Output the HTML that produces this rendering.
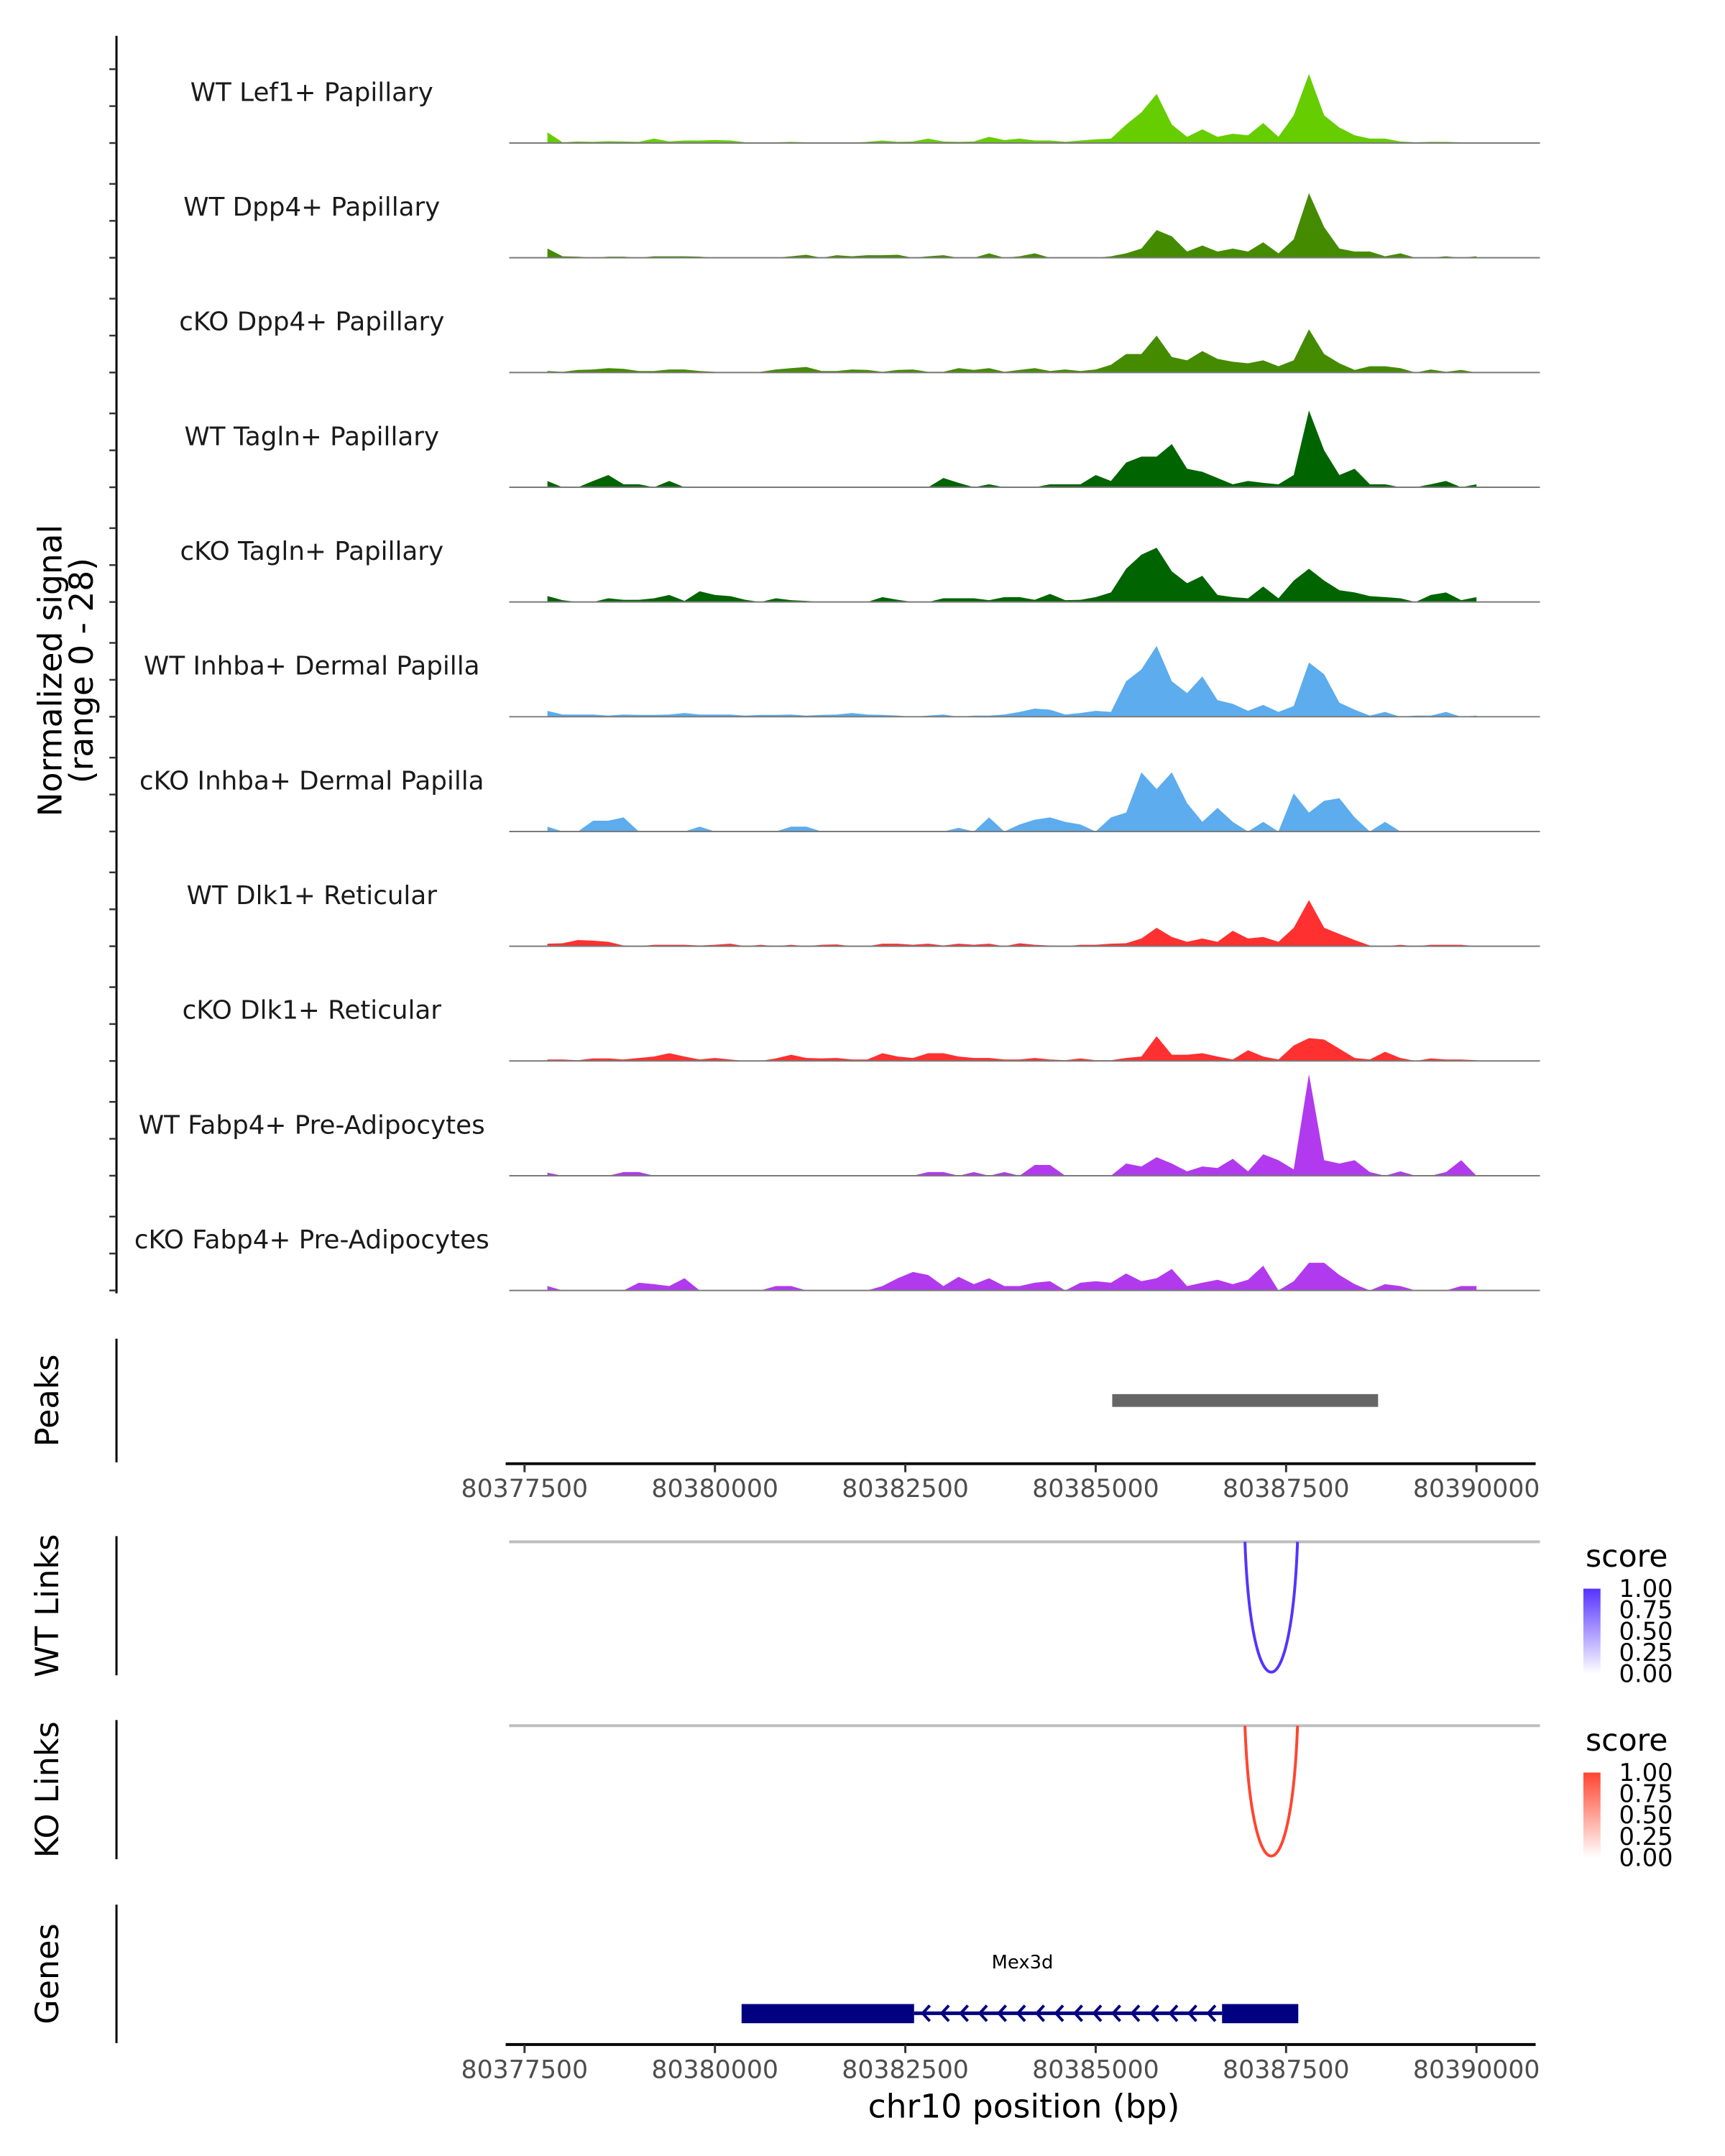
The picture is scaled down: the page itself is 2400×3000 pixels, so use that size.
<!DOCTYPE html>
<html><head><meta charset="utf-8"><style>
html,body{margin:0;padding:0;background:#fff}
svg{display:block;font-family:"DejaVu Sans","Liberation Sans",sans-serif}
</style></head><body>
<svg id="chart" width="2400" height="3000" viewBox="0 0 2400 3000" xmlns="http://www.w3.org/2000/svg">
<rect width="2400" height="3000" fill="#fff"/>
<g transform="matrix(0.9917,0,0,0.988,2.4,2.4)">
<g id="tracks"></g>
<g id="lower"></g>
</g>
</svg>
<script>
const trackNames = ["WT Lef1+ Papillary","WT Dpp4+ Papillary","cKO Dpp4+ Papillary","WT Tagln+ Papillary","cKO Tagln+ Papillary","WT Inhba+ Dermal Papilla","cKO Inhba+ Dermal Papilla","WT Dlk1+ Reticular","cKO Dlk1+ Reticular","WT Fabp4+ Pre-Adipocytes","cKO Fabp4+ Pre-Adipocytes"];
const trackColors = ["#66CD00","#458B00","#458B00","#006400","#006400","#5CACEE","#5CACEE","#FF3030","#FF3030","#B23AEE","#B23AEE"];
const binStart = 80377800;
const binSize = 200;
const sigLef1WT = [2.9,0.2,0.4,0.3,0.5,0.4,0.3,1.2,0.4,0.7,0.7,0.8,0.7,0.2,0.1,0.2,0.3,0.2,0.1,0.1,0.1,0.3,0.7,0.3,0.4,1.2,0.4,0.3,0.4,1.7,0.8,1.2,0.7,0.7,0.3,0.7,1,1.2,5,8.3,13.3,5,1.7,3.7,1.7,2.5,2.1,5.4,1.7,7.5,18.7,7.5,4.2,2.1,1.2,1.2,0.4,0.2,0.3,0.3,0.2,0];
const sigDpp4WT = [2.5,0.4,0.3,0,0.3,0.3,0,0.4,0.4,0.4,0.3,0,0,0,0,0,0.4,0.8,0,0.7,0.4,0.7,0.7,0.8,0,0.4,0.7,0,0,1.2,0,0.4,1.2,0,0,0,0,0.4,1.2,2.5,7.5,5.8,1.7,3.3,1.7,2.5,1.7,4.2,1.2,5,17.5,8.3,2.5,1.7,1.7,0.4,1.2,0,0,0.4,0,0.4];
const sigDpp4KO = [0.4,0.2,0.7,0.8,1.2,1,0.4,0.4,0.8,0.8,0.4,0.2,0,0,0.2,0.8,1.2,1.5,0.4,0.4,0.8,0.7,0.2,0.7,0.8,0.2,0.2,1.2,0.7,1.2,0.2,0.7,1.2,0.4,0.8,0.4,0.8,2.1,5,5,10,4.2,3.3,5.8,3.7,2.9,2.5,3.3,1.7,3.3,11.7,5,2.5,0.7,1.7,1.7,1.2,0,0.8,0.2,0.7,0];
const sigTaglnWT = [1.7,0,0,1.7,3.3,0.8,0.8,0,1.7,0,0,0,0,0,0,0,0,0,0,0,0,0,0,0,0,0,2.5,1.2,0,0.8,0,0,0,0.8,0.8,0.8,3.3,1.7,6.7,8.3,8.3,11.7,5,4.2,2.5,0.8,1.7,1.2,0.8,3.3,20.8,10,3.3,5,0.8,0.8,0,0,0.8,1.7,0,0.8];
const sigTaglnKO = [1.6,0.5,0,0,1,0.6,0.6,1,1.9,0.3,2.9,1.9,1.6,0.6,0,1,0.5,0.3,0,0,0,0,1.3,0.6,0,0,1,1,1,0.5,1.3,1.3,0.6,2.2,0.5,0.6,1.3,2.6,9,12.8,14.7,8.3,5.1,7.1,1.9,1.3,1,4.2,1,5.8,9,5.8,3.2,2.6,1.6,1.3,1,0,1.9,2.6,0.5,1.3];
const sigInhbaWT = [1.6,0.6,0.6,0.6,0.3,0.6,0.5,0.5,0.6,1,0.6,0.6,0.6,0.3,0.5,0.5,0.6,0.3,0.5,0.6,1,0.6,0.5,0.3,0,0.3,0.6,0,0.3,0.3,0.6,1.3,2.2,1.9,0.6,1,1.6,1.3,9.6,12.8,19.2,9.6,6.4,10.9,4.5,3.5,1.6,3.2,1.3,2.9,14.7,11.5,3.8,1.9,0.3,1.3,0,0.3,0.3,1.3,0,0.3];
const sigInhbaKO = [1.3,0,0,2.9,2.9,3.8,0,0,0,0,1.3,0,0,0,0,0,1.3,1.3,0,0,0,0,0,0,0,0,0,1,0,3.8,0,1.9,3.2,3.8,2.6,1.9,0,3.8,5.1,16,11.5,16,7.7,2.6,6.4,2.6,0,2.6,0,10.3,5.1,8.3,9,3.8,0,2.6,0,0,0,0,0,0];
const sigDlk1WT = [0.7,0.8,1.7,1.5,1.2,0.2,0,0.4,0.4,0.4,0.2,0.4,0.7,0,0.4,0,0.4,0,0.4,0.5,0,0,0.7,0.7,0.4,0.7,0.2,0.7,0.4,0.7,0,0.8,0.4,0.2,0,0.4,0.4,0.7,0.8,2.1,5,2.5,1.2,2.1,1.2,4.2,2.1,2.5,1.2,5,12.5,5,3.3,1.7,0.2,0,0.4,0,0.4,0.4,0.4,0];
const sigDlk1KO = [0.4,0.4,0.2,0.7,0.7,0.4,0.8,1.2,2.1,1.2,0.4,0.8,0.4,0,0,0.7,1.7,0.8,0.7,0.8,0.4,0.4,2.1,1.2,0.8,2.1,2.1,1.2,0.8,0.8,0.4,0.4,0.8,0.4,0.2,0.7,0.2,0.2,0.8,1.2,6.7,1.7,1.7,2.1,1.2,0.4,2.9,1.2,0.4,4.2,6.2,5.8,3.3,0.8,0.4,2.5,0.8,0,0.7,0.4,0.4,0.2];
const sigFabp4WT = [0.8,0,0,0,0,1,1,0,0,0,0,0,0,0,0,0,0,0,0,0,0,0,0,0,0,1,1,0,1,0,1,0,2.9,2.9,0,0,0,0,3.3,2.5,5,3.3,1.2,2.5,2.1,4.6,1.2,5.8,4.2,1.7,27.5,4.2,3.3,4.2,1,0,1.2,0,0,1,4.2,0];
const sigFabp4KO = [1.2,0,0,0,0,0,2.1,1.7,1.2,3.3,0,0,0,0,0,1.2,1.2,0,0,0,0,0,1.2,3.3,5,4.2,1.2,3.7,1.7,3.3,1.2,1.2,2.1,2.5,0,2.1,2.5,2.1,4.6,2.5,3.3,5.8,1.2,2.1,2.9,1.7,2.9,6.7,0,2.5,7.5,7.5,4.2,1.7,0,1.7,1.2,0,0,0,1.2,1.2];
const yMax = 28;
const yTicks = [0,10,20];
const xTicks = [80377500,80380000,80382500,80385000,80387500,80390000];
const peakRegions = [[80385217,80388708]];
const wtLinks = [[80386960,80387650,1.0]];
const koLinks = [[80386960,80387650,1.0]];
const geneExons = [[80380350,80382615],[80386659,80387660]];
const geneIntron = [80382615,80386659];
const legendTicks = ["1.00","0.75","0.50","0.25","0.00"];

const signals=[sigLef1WT,sigDpp4WT,sigDpp4KO,sigTaglnWT,sigTaglnKO,sigInhbaWT,sigInhbaKO,sigDlk1WT,sigDlk1KO,sigFabp4WT,sigFabp4KO];
const NS="http://www.w3.org/2000/svg";
function mk(tag,attrs,parent){const e=document.createElementNS(NS,tag);for(const k in attrs)e.setAttribute(k,attrs[k]);parent.appendChild(e);return e;}
const X0=712,X1=2158;
function xs(bp){return 733.5+(bp-80377500)*0.106840;}
const trackH=145.6;
function ys(v,base){return base-v/yMax*trackH;}
const tracks=document.getElementById('tracks');
const lower=document.getElementById('lower');

let ax=mk('line',{x1:161,y1:48,x2:161,y2:1819,stroke:'#000','stroke-width':3},tracks);


signals.forEach((sig,k)=>{
  const base=199+161.6*k;
  const g=mk('g',{},tracks);
  
  
  yTicks.forEach(t=>{
    const tk=mk('line',{x1:151,x2:161,y1:ys(t,base),y2:ys(t,base),stroke:'#333','stroke-width':2.5},g);
    
    
  });
  let d='M'+xs(binStart).toFixed(1)+','+base;
  sig.forEach((v,i)=>{d+=' L'+xs(binStart+binSize*i).toFixed(1)+','+ys(v,base).toFixed(1);});
  d+=' L'+xs(binStart+binSize*(sig.length-1)).toFixed(1)+','+base+' Z';
  const p=mk('path',{d:d,fill:trackColors[k]},g);
  
  
  const bl=mk('line',{x1:X0,x2:X1,y1:base,y2:base,stroke:'#7a7a7a','stroke-width':2},g);
  
  
  const lb=mk('text',{x:435,y:base-71,'text-anchor':'middle','dominant-baseline':'central','font-size':36,fill:'#1a1a1a'},g);
  lb.textContent=trackNames[k];
  
  
});
const yt=mk('text',{transform:'translate(68,942) rotate(-90)','text-anchor':'middle','dominant-baseline':'central','font-size':46,fill:'#000'},tracks);
yt.textContent='Normalized signal';


const yt2=mk('text',{transform:'translate(112,942) rotate(-90)','text-anchor':'middle','dominant-baseline':'central','font-size':46,fill:'#000'},tracks);
yt2.textContent='(range 0 - 28)';



function panelLabel(txt,y0,y1,name){
  const l=mk('line',{x1:161,x2:161,y1:y0,y2:y1,stroke:'#000','stroke-width':3},lower);
  
  
  const t=mk('text',{transform:'translate(64,'+((y0+y1)/2)+') rotate(-90)','text-anchor':'middle','dominant-baseline':'central','font-size':45,fill:'#000'},lower);
  t.textContent=txt;
  
  
}
panelLabel('Peaks',1883,2057,'peaks');
panelLabel('WT Links',2161,2357,'wt-links');
panelLabel('KO Links',2420,2616,'ko-links');
panelLabel('Genes',2680,2875,'genes');

peakRegions.forEach(r=>{
  const b=mk('rect',{x:xs(r[0]),y:1961,width:xs(r[1])-xs(r[0]),height:18,fill:'#666'},lower);
  
  
});

function xAxis(y,name){
  const g=mk('g',{},lower);
  
  
  mk('line',{x1:X0-5,x2:X1-6,y1:y,y2:y,stroke:'#000','stroke-width':4},g);
  xTicks.forEach(t=>{
    const tk=mk('line',{x1:xs(t),x2:xs(t),y1:y,y2:y+12,stroke:'#333','stroke-width':3},g);
    
    
    const tl=mk('text',{x:xs(t),y:y+36,'text-anchor':'middle','dominant-baseline':'central','font-size':35,fill:'#4d4d4d'},g);
    tl.textContent=String(t);
    
    
  });
}
xAxis(2059,'x-axis-top');
xAxis(2877,'x-axis-bottom');
const xt=mk('text',{x:1434,y:2964,'text-anchor':'middle','dominant-baseline':'central','font-size':46,fill:'#000'},lower);
xt.textContent='chr10 position (bp)';



function linkPanel(links,top,bottom,color,gid,name){
  const gl=mk('line',{x1:X0,x2:X1,y1:top,y2:top,stroke:'#bebebe','stroke-width':4},lower);
  
  
  links.forEach(l=>{
    const a=xs(l[0]),b=xs(l[1]),dep=(bottom-top)*l[2];
    const d='M'+a+','+top+' C'+(a+(b-a)*0.12)+','+(top+dep*1.33)+' '+(b-(b-a)*0.12)+','+(top+dep*1.33)+' '+b+','+top;
    const p=mk('path',{d:d,fill:'none',stroke:color,'stroke-width':4},lower);
    
    
  });
  const lg=mk('g',{},lower);
  
  
  const t=mk('text',{x:2222,y:top+21,'dominant-baseline':'central','font-size':43,fill:'#000'},lg);
  t.textContent='score';
  const defs=mk('defs',{},lg);
  const gr=mk('linearGradient',{id:gid,x1:0,y1:1,x2:0,y2:0},defs);
  mk('stop',{offset:0,'stop-color':'#fff'},gr);
  mk('stop',{offset:1,'stop-color':color},gr);
  const by0=top+66,by1=top+186;
  mk('rect',{x:2219,y:by0,width:24,height:by1-by0,fill:'url(#'+gid+')'},lg);
  legendTicks.forEach((s,i)=>{
    const yy=by0+(by1-by0)*i/(legendTicks.length-1);
    const tt=mk('text',{x:2269,y:yy,'dominant-baseline':'central','font-size':34,fill:'#000'},lg);
    tt.textContent=s;
  });
}
linkPanel(wtLinks,2169,2353,'#5533FF','gradWT','wt-links');
linkPanel(koLinks,2428,2612,'#FF4530','gradKO','ko-links');

const gg=mk('g',{},lower);


mk('line',{x1:xs(geneIntron[0]),x2:xs(geneIntron[1]),y1:2833,y2:2833,stroke:'#000080','stroke-width':5},gg);
for(let bp=geneIntron[0]+150;bp<geneIntron[1]-50;bp+=250){
  const x=xs(bp);
  mk('polyline',{points:(x+6)+','+(2822)+' '+(x-4)+','+2833+' '+(x+6)+','+2844,fill:'none',stroke:'#000080','stroke-width':4},gg);
}
geneExons.forEach(e=>{
  const r=mk('rect',{x:xs(e[0]),y:2820,width:xs(e[1])-xs(e[0]),height:27,fill:'#000080'},gg);
  
  
});
const gn=mk('text',{x:1432,y:2762,'text-anchor':'middle','dominant-baseline':'central','font-size':26,fill:'#000'},gg);
gn.textContent='Mex3d';


</script>
</body></html>
